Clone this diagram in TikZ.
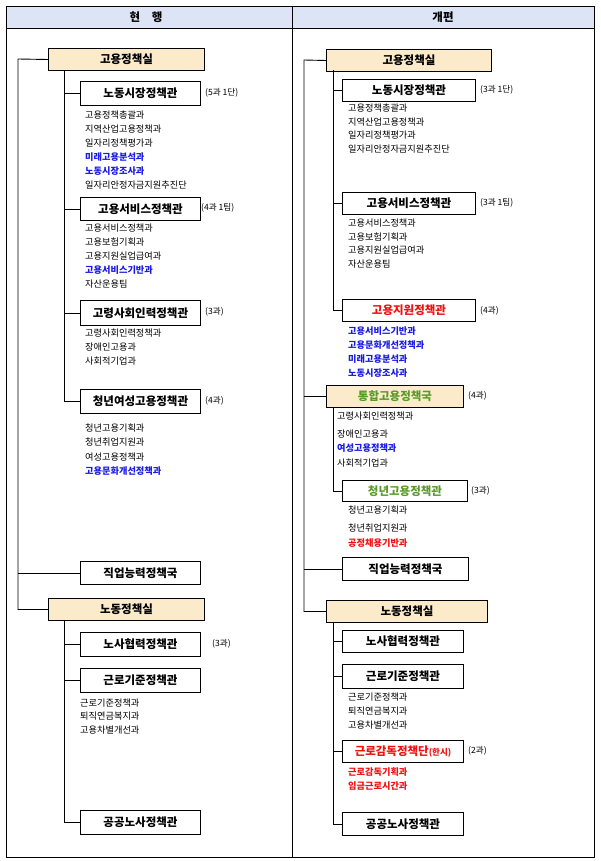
\documentclass[tikz,border=0pt]{standalone}
\usepackage{fontspec}
\setmainfont{Noto Sans CJK KR}
\definecolor{hdr}{HTML}{DDE4F6}
\definecolor{beige}{HTML}{FBEBCB}
\definecolor{iblue}{HTML}{1A1AE6}
\definecolor{ired}{HTML}{F01010}
\definecolor{igreen}{HTML}{5A9A2A}
\begin{document}
\begin{tikzpicture}[x=1pt,y=-1pt,
  box/.style={draw,line width=1pt,anchor=north west,inner sep=0pt,font=\fontsize{11.5}{12}\selectfont\bfseries,text=black},
  item/.style={anchor=west,inner sep=0pt,font=\fontsize{9.2}{10}\selectfont},
  bitem/.style={item,font=\fontsize{9.2}{10}\selectfont\bfseries},
  cnt/.style={anchor=west,inner sep=0pt,font=\fontsize{8.6}{9}\selectfont},
  ln/.style={line width=0.9pt}]
\useasboundingbox (0,0) rectangle (600,861);
% table
\fill[hdr] (6,6) rectangle (594,28);
\draw[line width=0.8pt] (6,6) rectangle (594,857);
\draw[line width=0.8pt] (6,28) -- (594,28);
\draw[line width=0.8pt] (292,6) -- (292,857);
\node[font=\fontsize{11.5}{12}\selectfont\bfseries] (h1) at (146,17) {현\quad 행};
\node[font=\fontsize{11.5}{12}\selectfont\bfseries] (h2) at (443,17) {개편};
% ---------- LEFT ----------
\coordinate (lm) at (18,59);
\coordinate (li1) at (64,70);
\coordinate (li2) at (64,620);
\node[box,fill=beige,minimum width=156,minimum height=22] (L0) at (48,48) {고용정책실};
\node[box,minimum width=120,minimum height=24] (L1) at (80,81) {노동시장정책관};
\node[cnt] (L1c) at (205,93) {(5과 1단)};
\node[item] (L1a) at (85,115) {고용정책총괄과};
\node[item] (L1b) at (85,129) {지역산업고용정책과};
\node[item] (L1d) at (85,143) {일자리정책평가과};
\node[bitem,text=iblue] (L1e) at (85,157) {미래고용분석과};
\node[bitem,text=iblue] (L1f) at (85,171) {노동시장조사과};
\node[item] (L1g) at (85,185) {일자리안정자금지원추진단};
\node[box,minimum width=120,minimum height=23] (L2) at (80,197) {고용서비스정책관};
\node[cnt] (L2c) at (201,208) {(4과 1팀)};
\node[item] (L2a) at (85,228) {고용서비스정책과};
\node[item] (L2b) at (85,242) {고용보험기획과};
\node[item] (L2d) at (85,256) {고용지원실업급여과};
\node[bitem,text=iblue] (L2e) at (85,270) {고용서비스기반과};
\node[item] (L2f) at (85,284) {자산운용팀};
\node[box,minimum width=120,minimum height=25] (L3) at (80,300) {고령사회인력정책관};
\node[cnt] (L3c) at (205,312) {(3과)};
\node[item] (L3a) at (85,333) {고령사회인력정책과};
\node[item] (L3b) at (85,347) {장애인고용과};
\node[item] (L3d) at (85,361) {사회적기업과};
\node[box,minimum width=120,minimum height=24] (L4) at (80,389) {청년여성고용정책관};
\node[cnt] (L4c) at (205,401) {(4과)};
\node[item] (L4a) at (85,428) {청년고용기획과};
\node[item] (L4b) at (85,442) {청년취업지원과};
\node[item] (L4d) at (85,457) {여성고용정책과};
\node[bitem,text=iblue] (L4e) at (85,471) {고용문화개선정책과};
\node[box,minimum width=120,minimum height=23] (L5) at (80,561) {직업능력정책국};
\node[box,fill=beige,minimum width=156,minimum height=22] (L6) at (48,598) {노동정책실};
\node[box,minimum width=120,minimum height=24] (L7) at (80,632) {노사협력정책관};
\node[cnt] (L7c) at (212,644) {(3과)};
\node[box,minimum width=120,minimum height=24] (L8) at (80,668) {근로기준정책관};
\node[item] (L8a) at (80,703) {근로기준정책과};
\node[item] (L8b) at (80,716) {퇴직연금복지과};
\node[item] (L8d) at (80,730) {고용차별개선과};
\node[box,minimum width=120,minimum height=24] (L9) at (80,810) {공공노사정책관};
\draw[ln] (L0.west) -- (lm) -- (lm |- L6.west) -- (L6.west);
\draw[ln] (lm |- L5.west) -- (L5.west);
\draw[ln] (li1) -- (li1 |- L4.west) -- (L4.west);
\foreach \b in {L1,L2,L3} \draw[ln] (li1 |- \b.west) -- (\b.west);
\draw[ln] (li2) -- (li2 |- L9.west) -- (L9.west);
\foreach \b in {L7,L8} \draw[ln] (li2 |- \b.west) -- (\b.west);
% ---------- RIGHT ----------
\coordinate (rm) at (304,60);
\coordinate (ri1) at (333,70);
\coordinate (ri2) at (333,407);
\coordinate (ri3) at (333,622);
\node[box,fill=beige,minimum width=165,minimum height=22] (R0) at (326,49) {고용정책실};
\node[box,minimum width=133,minimum height=22] (R1) at (342,79) {노동시장정책관};
\node[cnt] (R1c) at (480,90) {(3과 1단)};
\node[item] (R1a) at (348,108) {고용정책총괄과};
\node[item] (R1b) at (348,122) {지역산업고용정책과};
\node[item] (R1d) at (348,135) {일자리정책평가과};
\node[item] (R1e) at (348,149) {일자리안정자금지원추진단};
\node[box,minimum width=133,minimum height=22] (R2) at (342,192) {고용서비스정책관};
\node[cnt] (R2c) at (480,203) {(3과 1팀)};
\node[item] (R2a) at (348,223) {고용서비스정책과};
\node[item] (R2b) at (348,237) {고용보험기획과};
\node[item] (R2d) at (348,250) {고용지원실업급여과};
\node[item] (R2e) at (348,264) {자산운용팀};
\node[box,minimum width=133,minimum height=22,text=ired] (R3) at (342,299) {고용지원정책관};
\node[cnt] (R3c) at (480,311) {(4과)};
\node[bitem,text=iblue] (R3a) at (348,331) {고용서비스기반과};
\node[bitem,text=iblue] (R3b) at (348,345) {고용문화개선정책과};
\node[bitem,text=iblue] (R3d) at (348,359) {미래고용분석과};
\node[bitem,text=iblue] (R3e) at (348,373) {노동시장조사과};
\node[box,fill=beige,minimum width=137,minimum height=22,text=igreen] (R4) at (326,385) {통합고용정책국};
\node[cnt] (R4c) at (468,396) {(4과)};
\node[item] (R4a) at (337,416) {고령사회인력정책과};
\node[item] (R4b) at (337,434) {장애인고용과};
\node[bitem,text=iblue] (R4d) at (337,448) {여성고용정책과};
\node[item] (R4e) at (337,463) {사회적기업과};
\node[box,minimum width=125,minimum height=21,text=igreen] (R5) at (342,480) {청년고용정책관};
\node[cnt] (R5c) at (471,491) {(3과)};
\node[item] (R5a) at (348,510) {청년고용기획과};
\node[item] (R5b) at (348,528) {청년취업지원과};
\node[bitem,text=ired] (R5d) at (348,543) {공정채용기반과};
\node[box,minimum width=126,minimum height=23] (R6) at (342,557) {직업능력정책국};
\node[box,fill=beige,minimum width=161,minimum height=22] (R7) at (326,600) {노동정책실};
\node[box,minimum width=121,minimum height=22] (R8) at (342,630) {노사협력정책관};
\node[box,minimum width=121,minimum height=24] (R9) at (342,664) {근로기준정책관};
\node[item] (R9a) at (348,697) {근로기준정책과};
\node[item] (R9b) at (348,711) {퇴직연금복지과};
\node[item] (R9d) at (348,725) {고용차별개선과};
\node[box,minimum width=121,minimum height=22,text=ired] (R10) at (342,740) {근로감독정책단{\fontsize{8.5}{9}\selectfont(한시)}};
\node[cnt] (R10c) at (468,751) {(2과)};
\node[bitem,text=ired] (R10a) at (348,772) {근로감독기획과};
\node[bitem,text=ired] (R10b) at (348,786) {임금근로시간과};
\node[box,minimum width=121,minimum height=23] (R11) at (342,812) {공공노사정책관};
\draw[ln] (R0.west) -- (rm) -- (rm |- R7.west) -- (R7.west);
\foreach \b in {R4,R6} \draw[ln] (rm |- \b.west) -- (\b.west);
\draw[ln] (ri1) -- (ri1 |- R3.west) -- (R3.west);
\foreach \b in {R1,R2} \draw[ln] (ri1 |- \b.west) -- (\b.west);
\draw[ln] (ri2) -- (ri2 |- R5.west) -- (R5.west);
\draw[ln] (ri3) -- (ri3 |- R11.west) -- (R11.west);
\foreach \b in {R8,R9,R10} \draw[ln] (ri3 |- \b.west) -- (\b.west);
\end{tikzpicture}
\end{document}
